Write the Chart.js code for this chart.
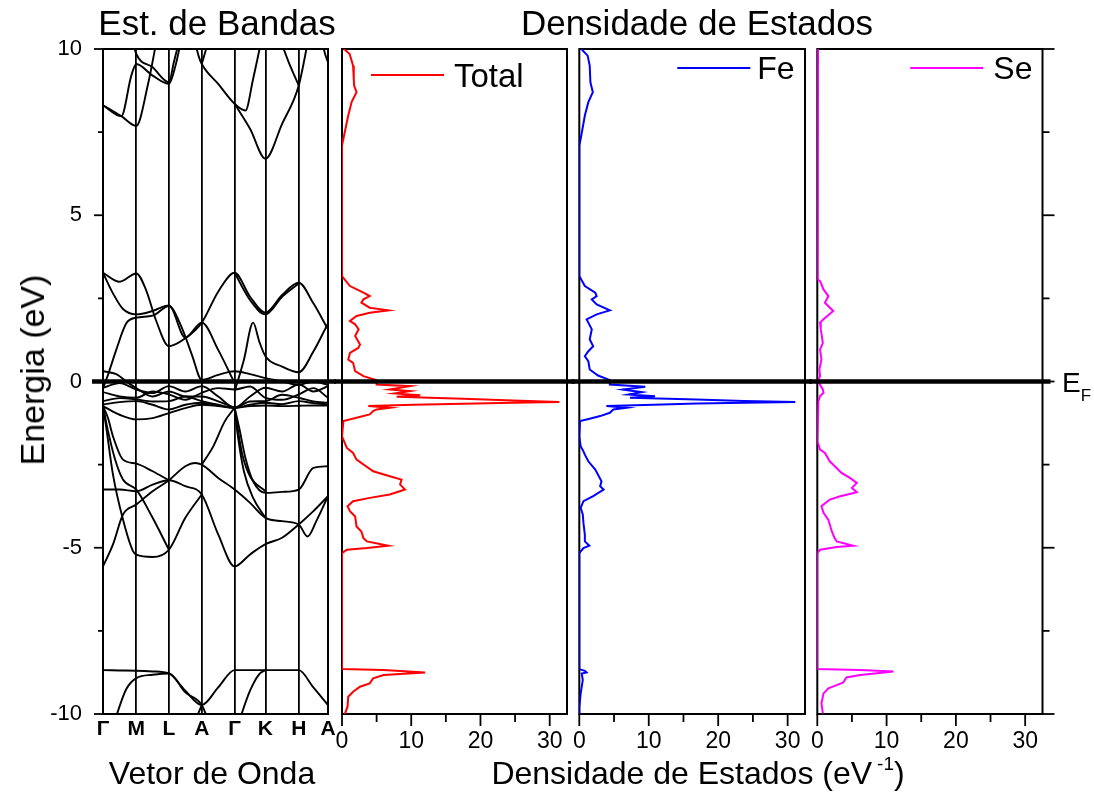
<!DOCTYPE html>
<html>
<head>
<meta charset="utf-8">
<script src="https://cdn.jsdelivr.net/npm/chart.js@4.4.0/dist/chart.umd.min.js"></script>
<style>
html, body { margin: 0; padding: 0; background: #fff; }
#page { position: relative; width: 1094px; height: 793px; overflow: hidden; font-family: "Liberation Sans", Arial, sans-serif; color: #000; }
canvas { position: absolute; top: 0; }
.txt { position: absolute; white-space: nowrap; line-height: 1; }
</style>
</head>
<body>
<div id="page">
  <canvas id="cBand" width="340" height="793" style="left:0px"></canvas>
  <canvas id="cTotal" width="245" height="793" style="left:330px"></canvas>
  <canvas id="cFe" width="245" height="793" style="left:567px"></canvas>
  <canvas id="cSe" width="289" height="793" style="left:805px"></canvas>

  <div class="txt" style="left:217px;top:5px;font-size:35px;transform:translateX(-50%)">Est. de Bandas</div>
  <div class="txt" style="left:697px;top:5px;font-size:35px;transform:translateX(-50%)">Densidade de Estados</div>
  <div class="txt" style="left:32px;top:370px;font-size:34px;transform:translate(-50%,-50%) rotate(-90deg)">Energia (eV)</div>
  <div class="txt" style="left:212px;top:757px;font-size:32px;transform:translateX(-50%)">Vetor de Onda</div>
  <div class="txt" style="left:698px;top:757px;font-size:32px;transform:translateX(-50%)">Densidade de Estados (eV<span style="font-size:19px;position:relative;top:-14px;margin-left:5px">-1</span>)</div>
  <div class="txt" style="left:1062px;top:369px;font-size:28px">E<span style="font-size:17px;position:relative;top:9px">F</span></div>
</div>

<script>
// ---------------- DONNEES ----------------
// chemin k : points de haute symetrie et leur position le long du chemin
const kLabels = ['Γ', 'M', 'L', 'A', 'Γ', 'K', 'H', 'A'];
const kPos = [0, 0.148, 0.293, 0.439, 0.585, 0.722, 0.870, 1.0];

const energyMajor = [-10, -5, 0, 5, 10];
const energyMinor = [-7.5, -2.5, 2.5, 7.5];
const dosMajor = [0, 10, 20, 30];
const dosMinor = [5, 15, 25];
const dosMax = 32.5;

// bandes : paires [segment du chemin (0..7), energie eV]
const bandsUpper = [
  [[0,8.31],[0.55,7.98],[0.85,9.2],[1,9.55],[1.5,9.2],[2,8.95],[2.2,9.5],[2.4,10.4]],
  [[2.75,10.4],[2.9,9.8],[3,9.55],[3.5,8.95],[4,8.35],[4.35,8.15],[4.6,9.1],[4.9,10.4]],
  [[0,8.31],[0.55,7.98],[1,7.69],[1.35,8.9],[1.65,10.4]],
  [[0.85,10.4],[1,9.85],[1.5,9.45],[2,9.0],[2.15,9.6],[2.35,10.4]],
  [[3,9.55],[3.25,10.4]],
  [[4,8.35],[4.5,7.6],[5,6.7],[5.5,7.75],[6,8.9],[6.35,10.4]],
  [[5.4,10.4],[5.7,9.6],[6,8.9]],
  [[6.75,10.4],[6.9,9.85],[7,9.6]]
];

const bandsConduction = [
  [[0,3.27],[0.5,3.0],[1,3.25],[1.3,2.75],[1.6,1.85],[2,1.06],[2.5,1.3],[3,1.77],[3.5,2.7],[4,3.27],[4.5,2.55],[5,2.07],[5.5,2.6],[6,2.97],[6.5,2.35],[7,1.57]],
  [[4,3.27],[4.5,2.45],[5,2.02],[5.5,2.55],[6,2.95]],
  [[0,3.27],[0.3,2.65],[0.6,2.18],[1,2.02],[1.5,2.12],[2,2.29],[2.5,1.32],[3,1.77],[3.5,0.95],[4,-0.05]],
  [[0,-0.2],[0.15,0.2],[0.4,0.96],[0.7,1.75],[1,1.92],[1.5,1.98],[2,2.27],[2.4,1.6],[2.7,0.8],[3,0.05],[3.5,0.2],[4,0.31],[4.5,0.22],[5,0.1],[5.5,0.0],[6,-0.1],[6.5,0.0],[7,-0.1]],
  [[4,-0.3],[4.3,0.65],[4.6,1.77],[4.8,1.2],[5,0.76],[5.5,0.45],[6,0.28],[6.5,0.9],[7,1.75]],
  [[0,0.31],[0.4,0.22],[0.7,0.0],[1,-0.2],[1.5,-0.45],[2,-0.3],[2.5,-0.45],[3,-0.45],[3.5,-0.6],[4,-0.79]]
];

const bandsFermi = [
  [[0,-0.19],[0.5,-0.05],[1,-0.24],[1.5,-0.35],[2,-0.14],[2.5,-0.3],[3,-0.14],[3.5,-0.45],[4,-0.79],[4.5,-0.45],[5,-0.19],[5.5,-0.3],[6,-0.09],[6.5,-0.3],[7,-0.14]],
  [[0,-0.32],[0.5,-0.45],[1,-0.49],[1.5,-0.3],[2,-0.39],[2.5,-0.55],[3,-0.34],[3.5,-0.2],[4,-0.24],[4.5,-0.15],[5,-0.49],[5.5,-0.55],[6,-0.39],[6.5,-0.2],[7,-0.49]],
  [[0,-0.59],[0.5,-0.5],[1,-0.54],[1.5,-0.6],[2,-0.59],[2.5,-0.45],[3,-0.59],[3.5,-0.7],[4,-0.79],[4.5,-0.6],[5,-0.59],[5.5,-0.4],[6,-0.49],[6.5,-0.6],[7,-0.64]],
  [[0,-0.69],[0.5,-0.62],[1,-0.59],[1.5,-0.7],[2,-0.84],[2.5,-0.7],[3,-0.64],[3.5,-0.72],[4,-0.79],[4.5,-0.7],[5,-0.64],[5.5,-0.68],[6,-0.59],[6.5,-0.65],[7,-0.69]],
  [[0,-0.74],[0.5,-1.0],[1,-1.14],[1.5,-1.1],[2,-0.95],[2.5,-0.8],[3,-0.7],[3.5,-0.74],[4,-0.79],[4.5,-0.74],[5,-0.72],[5.5,-0.74],[6,-0.73],[6.5,-0.72],[7,-0.72]]
];

const bandsValence = [
  [[0,-0.74],[0.15,-1.1],[0.3,-1.65],[0.6,-2.35],[1,-2.47],[1.5,-2.7],[2,-2.97]],
  [[0,-0.74],[0.12,-1.35],[0.35,-2.3],[0.6,-2.95],[1,-3.25],[1.5,-4.1],[2,-5.06]],
  [[0,-0.74],[0.1,-1.4],[0.3,-2.8],[0.6,-4.15],[0.9,-5.1],[1,-5.21],[1.5,-5.28],[2,-5.06],[2.5,-4.1],[3,-3.4]],
  [[0,-3.25],[0.5,-3.25],[1,-3.3],[1.5,-3.1],[2,-2.97],[2.5,-3.15],[3,-3.4],[3.5,-4.6],[4,-5.56],[4.5,-5.2],[5,-4.89],[5.5,-4.7],[6,-4.3],[6.5,-3.9],[7,-3.45]],
  [[0,-5.56],[0.3,-4.9],[0.6,-4.0],[1,-3.7],[1.5,-3.3],[2,-2.97],[2.5,-2.55],[2.8,-2.45],[3,-2.5],[3.5,-2.9],[4,-3.25],[4.5,-3.65],[5,-4.1],[5.5,-4.2],[6,-4.3],[6.3,-4.66],[6.6,-4.2],[7,-3.45]],
  [[3,-2.5],[3.35,-1.95],[3.7,-1.2],[4,-0.79]],
  [[4,-0.79],[4.15,-1.4],[4.35,-2.3],[4.6,-3.0],[5,-3.35],[5.5,-3.32],[6,-3.25],[6.5,-2.6],[7,-2.55]],
  [[4,-0.79],[4.1,-1.6],[4.3,-2.7],[4.6,-3.5],[5,-4.1]],
  [[4,-0.79],[4.08,-1.3],[4.25,-2.2],[4.5,-2.85],[5,-3.3]]
];

const bandsDeep = [
  [[0,-8.68],[0.5,-8.69],[1,-8.7],[1.5,-8.72],[2,-8.78],[2.5,-9.3],[3,-9.73],[3.5,-9.2],[4,-8.68],[4.5,-8.68],[5,-8.68],[5.5,-8.68],[6,-8.68],[6.5,-9.2],[7,-9.73]],
  [[0.35,-10.2],[0.7,-9.25],[1,-8.92],[1.5,-8.82],[2,-8.78],[2.5,-9.35],[3,-9.73],[3.2,-10.2]],
  [[2.8,-10.2],[3,-9.73]],
  [[4.15,-10.2],[4.5,-9.3],[4.8,-8.8],[5,-8.68]]
];

// densite d'etats : paires [energie eV, DOS]
const dosTotal = [
  [10,0.3],[9.85,1.1],[9.5,1.6],[9.1,1.7],[8.9,1.75],[8.7,2.1],[8.41,1.4],[8.0,0.9],[7.3,0.2],[7.1,0],
  [3.17,0],[3.12,0.2],[2.87,1.15],[2.67,3.1],[2.57,4.0],[2.47,3.1],[2.37,2.8],[2.22,4.0],[2.14,6.7],[2.07,4.0],
  [1.97,2.1],[1.82,1.15],[1.72,1.9],[1.57,2.4],[1.37,1.9],[1.11,2.6],[1.01,2.35],[0.86,1.15],[0.66,0.9],[0.56,1.6],
  [0.31,1.9],[0.16,3.1],[0.04,5.0],[-0.09,5.0],[-0.14,9.8],[-0.24,6.9],[-0.29,9.8],[-0.36,7.6],[-0.41,11.3],[-0.46,7.9],
  [-0.52,17.5],[-0.57,24.7],[-0.615,31.4],[-0.64,24.7],[-0.67,17.5],[-0.70,10.3],[-0.74,3.8],[-0.79,6.9],[-0.84,5.0],[-0.89,4.5],
  [-0.99,4.0],[-1.09,2.1],[-1.19,0.2],[-1.65,0],[-2.0,0.7],[-2.15,1.6],[-2.35,2.1],[-2.7,4.5],[-2.85,6.9],[-2.95,8.6],
  [-3.1,8.4],[-3.25,9.1],[-3.4,6.9],[-3.5,4.0],[-3.6,1.6],[-3.75,0.8],[-3.9,1.15],[-4.06,1.9],[-4.36,2.1],[-4.51,2.8],
  [-4.71,3.1],[-4.81,3.6],[-4.94,6.7],[-5.01,3.6],[-5.06,0.7],[-5.16,0],[-8.65,0],[-8.68,6],[-8.75,12],[-8.83,6],
  [-8.93,4.5],[-9.08,4],[-9.18,2.6],[-9.33,1.6],[-9.48,0.9],[-9.78,0.8],[-10,0.4]
];

const dosFe = [
  [10,0.3],[9.8,1.2],[9.5,1.5],[9.0,1.6],[8.7,1.95],[8.4,1.3],[8.0,0.8],[7.3,0.2],[7.1,0],
  [3.17,0],[2.87,0.8],[2.67,2.3],[2.57,2.5],[2.47,1.8],[2.32,2.5],[2.14,4.4],[2.02,2.5],[1.87,1.05],[1.77,1.3],
  [1.57,1.8],[1.27,1.5],[1.06,2.0],[0.91,1.3],[0.76,0.8],[0.61,1.3],[0.36,1.5],[0.18,2.7],[0.04,4.4],[-0.09,4.4],
  [-0.16,9.5],[-0.24,6.3],[-0.32,9.0],[-0.39,7.1],[-0.44,10.9],[-0.49,7.3],[-0.54,16.9],[-0.59,23.7],[-0.62,31.1],[-0.66,16.9],
  [-0.70,10.7],[-0.74,3.9],[-0.79,6.8],[-0.84,4.9],[-0.94,4.4],[-1.04,3.0],[-1.12,1.5],[-1.19,0.1],[-1.65,0],[-1.95,0.2],
  [-2.1,0.6],[-2.2,0.8],[-2.4,1.3],[-2.65,2.3],[-3.0,3.2],[-3.15,3.0],[-3.25,3.5],[-3.45,2.0],[-3.6,0.6],[-3.8,0.2],
  [-4.0,0.5],[-4.26,0.6],[-4.61,0.8],[-4.81,0.8],[-4.94,1.45],[-5.01,0.6],[-5.16,0],[-8.65,0],[-8.7,0.8],[-8.75,1.05],
  [-8.78,0.35],[-8.98,0.5],[-9.38,0.2],[-9.8,0],[-10,0]
];

const dosSe = [
  [10,0.1],[7,0.1],[3.07,0],[3.02,0.4],[2.77,0.9],[2.57,1.6],[2.37,1.1],[2.12,2.3],[1.87,0.9],[1.77,0.4],
  [1.57,0.5],[1.16,0.8],[0.96,0.4],[0.66,0.6],[0.36,0.3],[0.16,0.4],[0.0,0.1],[-0.24,0.8],[-0.34,0.9],[-0.44,0.4],
  [-0.6,0.15],[-1.0,0.1],[-1.8,0],[-2.05,0.4],[-2.15,1.1],[-2.4,1.8],[-2.75,3.5],[-2.9,4.7],[-3.05,5.7],[-3.2,5.0],
  [-3.33,5.7],[-3.45,3.3],[-3.55,1.8],[-3.75,0.6],[-3.95,0.9],[-4.16,1.6],[-4.51,2.1],[-4.71,2.5],[-4.81,2.8],[-4.94,5.2],
  [-4.98,2.8],[-5.06,0.4],[-5.16,0],[-8.65,0],[-8.68,6.2],[-8.72,11],[-8.83,6.2],[-8.9,4.2],[-9.05,3.75],[-9.13,2.8],
  [-9.23,1.6],[-9.38,0.9],[-9.68,0.6],[-9.98,0.8]
];

// ---------------- CONFIG ----------------
const FONT = '"Liberation Sans", Arial, sans-serif';
Chart.defaults.font.family = FONT;
Chart.defaults.color = '#000';

// segment du chemin -> abscisse k
function toK(s) {
  const i = Math.min(Math.floor(s), kPos.length - 2);
  return kPos[i] + (s - i) * (kPos[i + 1] - kPos[i]);
}

// pas de marge auto pour les etiquettes en bord d'axe
function fixX(s) {
  s.height = 79;
  s.paddingLeft = 0;
  s.paddingRight = 0;
}

// cadre, graduations, niveau de Fermi, legende
const panelPlugin = {
  id: 'panel',
  beforeDatasetsDraw(chart, args, opts) {
    const { ctx, chartArea: a, scales } = chart;
    ctx.save();
    ctx.strokeStyle = '#000';
    ctx.lineWidth = 2;
    ctx.strokeRect(a.left, a.top, a.right - a.left, a.bottom - a.top);
    ctx.lineWidth = 1.8;
    const seg = (x1, y1, x2, y2) => { ctx.beginPath(); ctx.moveTo(x1, y1); ctx.lineTo(x2, y2); ctx.stroke(); };
    if (opts.leftTicks) {
      energyMajor.forEach(v => { const y = scales.y.getPixelForValue(v); seg(a.left - 9, y, a.left, y); });
      energyMinor.forEach(v => { const y = scales.y.getPixelForValue(v); seg(a.left - 5, y, a.left, y); });
    }
    if (opts.rightTicks) {
      energyMajor.forEach(v => { const y = scales.y.getPixelForValue(v); seg(a.right, y, a.right + 12, y); });
      energyMinor.forEach(v => { const y = scales.y.getPixelForValue(v); seg(a.right, y, a.right + 7, y); });
    }
    if (opts.bottomTicks) {
      dosMajor.forEach(v => { const x = scales.x.getPixelForValue(v); seg(x, a.bottom, x, a.bottom + 12); });
      dosMinor.forEach(v => { const x = scales.x.getPixelForValue(v); seg(x, a.bottom, x, a.bottom + 8); });
    }
    ctx.restore();
  },
  afterDatasetsDraw(chart, args, opts) {
    const { ctx, chartArea: a, scales } = chart;
    const y0 = scales.y.getPixelForValue(0);
    ctx.save();
    ctx.strokeStyle = '#000';
    ctx.lineWidth = 4.5;
    ctx.beginPath();
    ctx.moveTo(a.left - opts.fermi[0], y0);
    ctx.lineTo(a.right + opts.fermi[1], y0);
    ctx.stroke();
    if (opts.legend) {
      const ds = chart.data.datasets[0];
      const L = opts.legend;
      ctx.strokeStyle = ds.borderColor;
      ctx.lineWidth = 2;
      ctx.beginPath();
      ctx.moveTo(a.left + L.x1, a.top + L.y);
      ctx.lineTo(a.left + L.x2, a.top + L.y);
      ctx.stroke();
      ctx.fillStyle = '#000';
      ctx.font = L.size + 'px ' + FONT;
      ctx.textBaseline = 'alphabetic';
      ctx.fillText(ds.label, a.left + L.tx, a.top + L.ty);
    }
    ctx.restore();
  }
};

// ---------------- ESTRUTURA DE BANDAS ----------------
const allBands = [].concat(bandsUpper, bandsConduction, bandsFermi, bandsValence, bandsDeep);
const bandDatasets = allBands.map(b => ({
  data: b.map(p => ({ x: toK(p[0]), y: p[1] })),
  showLine: true,
  borderColor: '#000',
  borderWidth: 1.9,
  pointRadius: 0,
  cubicInterpolationMode: 'monotone',
  capBezierPoints: false
}));

new Chart(document.getElementById('cBand'), {
  type: 'scatter',
  data: { datasets: bandDatasets },
  options: {
    responsive: false,
    animation: false,
    devicePixelRatio: 1,
    layout: { autoPadding: false, padding: { top: 49, right: 12, left: 0, bottom: 0 } },
    plugins: {
      legend: { display: false },
      tooltip: { enabled: false },
      panel: { leftTicks: true, fermi: [11, 8] }
    },
    scales: {
      x: {
        type: 'linear', min: 0, max: 1,
        afterBuildTicks: s => { s.ticks = kPos.map(v => ({ value: v })); },
        afterFit: fixX,
        grid: { display: true, drawOnChartArea: true, drawTicks: false, color: '#000', lineWidth: 1.8 },
        border: { display: false },
        ticks: {
          autoSkip: false, maxRotation: 0, padding: 3,
          font: { size: 21, weight: 'bold' },
          callback: (v, i) => kLabels[i]
        }
      },
      y: {
        type: 'linear', min: -10, max: 10,
        afterBuildTicks: s => { s.ticks = energyMajor.map(v => ({ value: v })); },
        afterFit: s => { s.width = 103; },
        grid: { display: false, drawTicks: false },
        border: { display: false },
        ticks: { padding: 21, font: { size: 22 }, callback: v => String(v) }
      }
    }
  },
  plugins: [panelPlugin]
});

// ---------------- DENSIDADE DE ESTADOS ----------------
function dosChart(id, label, color, values, pad, legend, rightTicks) {
  return new Chart(document.getElementById(id), {
    type: 'scatter',
    data: {
      datasets: [{
        label: label,
        data: values.map(p => ({ x: p[1], y: p[0] })),
        showLine: true,
        borderColor: color,
        borderWidth: 2,
        pointRadius: 0,
        tension: 0
      }]
    },
    options: {
      responsive: false,
      animation: false,
      devicePixelRatio: 1,
      layout: { autoPadding: false, padding: { top: 49, right: pad[1], left: pad[0], bottom: 0 } },
      plugins: {
        legend: { display: false },
        tooltip: { enabled: false },
        panel: { bottomTicks: true, rightTicks: rightTicks, fermi: [8, 8], legend: legend }
      },
      scales: {
        x: {
          type: 'linear', min: 0, max: dosMax,
          afterBuildTicks: s => { s.ticks = dosMajor.map(v => ({ value: v })); },
          afterFit: fixX,
          grid: { display: false, drawTicks: false },
          border: { display: false },
          ticks: { autoSkip: false, maxRotation: 0, padding: 14, font: { size: 23 } }
        },
        y: { type: 'linear', min: -10, max: 10, display: false }
      }
    },
    plugins: [panelPlugin]
  });
}

dosChart('cTotal', 'Total', '#ff0000', dosTotal, [12, 8], { x1: 29, x2: 102, y: 26, tx: 112, ty: 38, size: 33 }, false);
dosChart('cFe', 'Fe', '#0000ff', dosFe, [12.3, 7], { x1: 98, x2: 171, y: 19, tx: 178, ty: 30, size: 32 }, false);
dosChart('cSe', 'Se', '#ff00ff', dosSe, [12.3, 51.5], { x1: 93, x2: 166, y: 19, tx: 176, ty: 30, size: 32 }, true);
</script>
</body>
</html>
